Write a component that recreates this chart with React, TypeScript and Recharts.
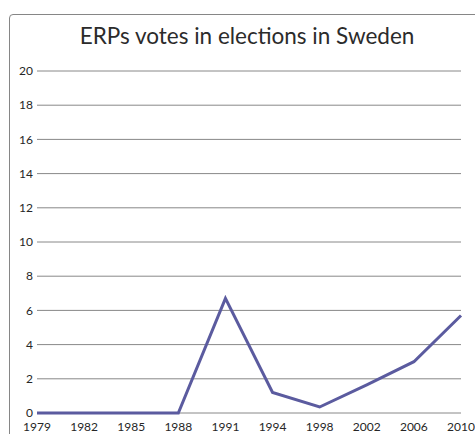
import React from 'react';
import { LineChart, Line, XAxis, YAxis, CartesianGrid } from 'recharts';

const years = ['1979', '1982', '1985', '1988', '1991', '1994', '1998', '2002', '2006', '2010'];
const votes = [0, 0, 0, 0, 6.7, 1.2, 0.35, 1.65, 3.0, 5.7];
const yTicks = [0, 2, 4, 6, 8, 10, 12, 14, 16, 18, 20];

const data = years.map((year, i) => ({ year, votes: votes[i] }));

const FONT = 'Lato, "Open Sans", sans-serif';

export default function App() {
  return (
    <div
      style={{
        position: 'fixed', left: 0, top: 0, width: 475, height: 434,
        overflow: 'hidden', fontFamily: FONT, background: '#fff',
      }}
    >
      <div
        style={{
          position: 'absolute', left: 9, top: 14, width: 500, height: 460,
          border: '1px solid #868686', borderRadius: 4, boxSizing: 'border-box',
        }}
      />
      <div
        style={{
          position: 'absolute', left: 0, top: 22, width: 494, textAlign: 'center',
          fontSize: 22.5, color: '#2b2b2b', lineHeight: '28px',
        }}
      >
        ERPs votes in elections in Sweden
      </div>
      <LineChart
        width={475}
        height={434}
        data={data}
        margin={{ top: 71, right: 14, bottom: 0, left: 0 }}
        style={{ position: 'absolute', left: 0, top: 0 }}
      >
        <CartesianGrid vertical={false} stroke="#888888" strokeWidth={1} />
        <XAxis
          dataKey="year"
          axisLine={false}
          tickLine={false}
          tickSize={0}
          tickMargin={9}
          height={21}
          interval={0}
          tick={{ fill: '#262626', fontSize: 12, fontFamily: FONT }}
        />
        <YAxis
          domain={[0, 20]}
          ticks={yTicks}
          axisLine={false}
          tickLine={false}
          tickSize={0}
          tickMargin={4}
          width={37}
          interval={0}
          tick={{ fill: '#262626', fontSize: 12, fontFamily: FONT }}
        />
        <Line
          type="linear"
          dataKey="votes"
          stroke="#5B5B9F"
          strokeWidth={3}
          dot={false}
          isAnimationActive={false}
        />
      </LineChart>
    </div>
  );
}
